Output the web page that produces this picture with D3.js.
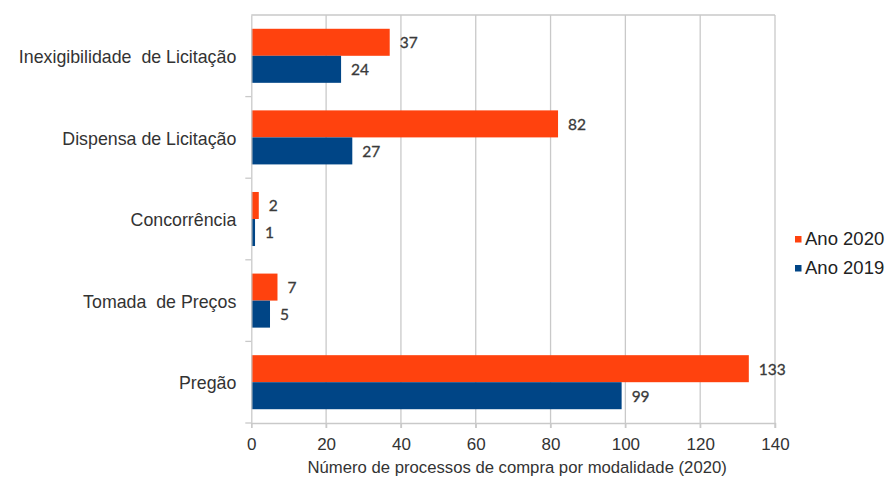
<!DOCTYPE html>
<html>
<head>
<meta charset="utf-8">
<script src="https://cdn.jsdelivr.net/npm/d3@7"></script>
<style>
  html, body { margin: 0; padding: 0; background: #fff; }
  svg { display: block; }
</style>
</head>
<body>
<svg id="chart" width="886" height="478"></svg>
<script>
// Purchase processes by procurement type, 2020 vs 2019
const categories = ["Inexigibilidade  de Licitação", "Dispensa de Licitação", "Concorrência", "Tomada  de Preços", "Pregão"];
const values2020 = [37, 82, 2, 7, 133];
const values2019 = [24, 27, 1, 5, 99];
const seriesNames = ["Ano 2020", "Ano 2019"];
const xTicks = [0, 20, 40, 60, 80, 100, 120, 140];
const axisTitle = "Número de processos de compra por modalidade (2020)";

const colors = ["#ff420e", "#004586"];
const series = [values2020, values2019];

const svg = d3.select("#chart");
const plot = { left: 251.3, right: 775, top: 15, bottom: 423 };

const x = d3.scaleLinear().domain([0, 140]).range([plot.left, plot.right]);
const y = d3.scaleBand().domain(categories).range([plot.top, plot.bottom]).paddingInner(0).paddingOuter(0);
const inner = d3.scaleBand().domain(d3.range(series.length)).range([0, y.bandwidth()]).paddingInner(0).paddingOuter(0.51);

const grid = "#c9c9c9";
const sans = "'Liberation Sans', Arial, sans-serif";

// vertical gridlines
svg.append("g").selectAll("line").data(xTicks.slice(1)).join("line")
  .attr("x1", d => x(d)).attr("x2", d => x(d))
  .attr("y1", plot.top).attr("y2", plot.bottom + 5)
  .attr("stroke", grid).attr("stroke-width", 1.3);

// top border
svg.append("line").attr("x1", plot.left).attr("x2", plot.right)
  .attr("y1", plot.top).attr("y2", plot.top)
  .attr("stroke", grid).attr("stroke-width", 1.3);

// bars
const groups = svg.append("g").selectAll("g").data(categories).join("g")
  .attr("transform", d => `translate(0,${y(d)})`);

series.forEach((vals, si) => {
  groups.append("rect")
    .attr("x", x(0))
    .attr("y", inner(si))
    .attr("width", (d, i) => x(vals[i]) - x(0))
    .attr("height", inner.bandwidth())
    .attr("fill", colors[si]);
  groups.append("text")
    .attr("x", (d, i) => x(vals[i]) + 10)
    .attr("y", inner(si) + inner.bandwidth() / 2 + 2)
    .attr("dominant-baseline", "middle")
    .attr("font-family", "Lato, sans-serif")
    .attr("font-size", 15.5)
    .attr("fill", "#3a3a3a")
    .attr("stroke", "#3a3a3a")
    .attr("stroke-width", 0.3)
    .text((d, i) => vals[i]);
});

// x axis
const xAxis = svg.append("g")
  .attr("transform", `translate(0,${plot.bottom})`)
  .call(d3.axisBottom(x).tickValues(xTicks).tickSize(5).tickPadding(10));
xAxis.select(".domain").attr("stroke", grid).attr("stroke-width", 1.3);
xAxis.selectAll(".tick line").attr("stroke", grid).attr("stroke-width", 1.3);
xAxis.selectAll("text")
  .attr("font-family", sans)
  .attr("font-size", 17)
  .attr("fill", "#333");

// y axis
const yAxis = svg.append("g")
  .attr("transform", `translate(${plot.left},0)`)
  .call(d3.axisLeft(y).tickSize(0).tickPadding(15));
yAxis.select(".domain").attr("stroke", grid).attr("stroke-width", 1.3);
yAxis.selectAll("text")
  .attr("font-family", sans)
  .attr("font-size", 17.8)
  .attr("fill", "#333")
  .attr("dy", "0.4em")
  .style("white-space", "pre");

// category separators on the y axis
svg.append("g").selectAll("line").data(categories.slice(1)).join("line")
  .attr("x1", plot.left - 6).attr("x2", plot.left)
  .attr("y1", d => y(d)).attr("y2", d => y(d))
  .attr("stroke", grid).attr("stroke-width", 1.3);
svg.append("line").attr("x1", plot.left - 6).attr("x2", plot.left)
  .attr("y1", plot.bottom).attr("y2", plot.bottom)
  .attr("stroke", grid).attr("stroke-width", 1.3);

// axis title
svg.append("text")
  .attr("x", (plot.left + plot.right) / 2 + 4)
  .attr("y", 473)
  .attr("text-anchor", "middle")
  .attr("font-family", sans)
  .attr("font-size", 16.7)
  .attr("fill", "#333")
  .text(axisTitle);

// legend
const legend = svg.append("g").selectAll("g").data(seriesNames).join("g")
  .attr("transform", (d, i) => `translate(795,${239 + i * 29})`);
legend.append("rect").attr("x", 0).attr("y", -3).attr("width", 6.5).attr("height", 6.5)
  .attr("fill", (d, i) => colors[i]);
legend.append("text").attr("x", 10).attr("y", 1)
  .attr("dominant-baseline", "middle")
  .attr("font-family", sans)
  .attr("font-size", 18.5)
  .attr("fill", "#222")
  .text(d => d);
</script>
</body>
</html>
